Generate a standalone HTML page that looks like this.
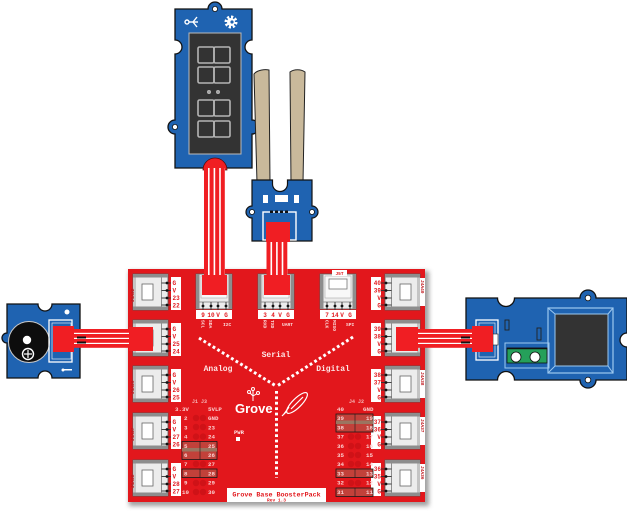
<!DOCTYPE html>
<html><head><meta charset="utf-8"><style>
html,body{margin:0;padding:0;background:#fff;}
svg{display:block;}
text{font-family:"Liberation Mono",monospace;font-weight:bold;}
</style></head><body>
<svg width="627" height="513" viewBox="0 0 627 513" xmlns="http://www.w3.org/2000/svg">
<defs>
<filter id="sh" x="-10%" y="-10%" width="120%" height="120%"><feGaussianBlur stdDeviation="2.5"/></filter>
<g id="ls">
<rect x="0" y="0" width="35" height="36" fill="#ececec" stroke="#555" stroke-width="0.8"/>
<rect x="0" y="0" width="35" height="3.5" fill="#8d8d8d"/>
<rect x="0" y="32.5" width="35" height="3.5" fill="#8d8d8d"/>
<rect x="0" y="3.5" width="3" height="29" fill="#c4c4c4"/>
<rect x="9" y="10" width="11" height="16" fill="#fff" stroke="#666" stroke-width="0.8"/>
<line x1="28.5" y1="3.5" x2="28.5" y2="32.5" stroke="#777" stroke-width="0.8"/>
<g stroke="#333" stroke-width="0.9">
<line x1="28.5" y1="9" x2="39" y2="9"/><line x1="28.5" y1="16.5" x2="39" y2="16.5"/>
<line x1="28.5" y1="24" x2="39" y2="24"/><line x1="28.5" y1="31" x2="39" y2="31"/>
</g>
<g fill="#111"><circle cx="34" cy="9" r="1.4"/><circle cx="34" cy="16.5" r="1.4"/><circle cx="34" cy="24" r="1.4"/><circle cx="34" cy="31" r="1.4"/></g>
</g>
<g id="ts">
<rect x="0" y="0" width="36" height="35" fill="#ececec" stroke="#555" stroke-width="0.8"/>
<rect x="0" y="0" width="3.5" height="35" fill="#8d8d8d"/>
<rect x="32.5" y="0" width="3.5" height="35" fill="#8d8d8d"/>
<rect x="5" y="2" width="26" height="22" fill="#f8f8f8" stroke="#aaa" stroke-width="0.6"/>
<rect x="9" y="5" width="18" height="10" fill="#fff" stroke="#777" stroke-width="0.8"/>
<line x1="3.5" y1="28" x2="32.5" y2="28" stroke="#777" stroke-width="0.8"/>
<g stroke="#333" stroke-width="0.9">
<line x1="7" y1="28" x2="7" y2="36"/><line x1="15" y1="28" x2="15" y2="36"/>
<line x1="22" y1="28" x2="22" y2="36"/><line x1="30" y1="28" x2="30" y2="36"/>
</g>
<g fill="#111"><circle cx="7" cy="32" r="1.4"/><circle cx="15" cy="32" r="1.4"/><circle cx="22" cy="32" r="1.4"/><circle cx="30" cy="32" r="1.4"/></g>
</g>
</defs>

<!-- board -->
<rect x="129" y="271" width="300" height="235" fill="#777" filter="url(#sh)" opacity="0.7"/>
<rect x="128" y="269" width="297" height="233" fill="#e2171c"/>

<!-- left sockets -->
<use href="#ls" x="133" y="274"/>
<use href="#ls" x="133" y="320"/>
<use href="#ls" x="133" y="366"/>
<use href="#ls" x="133" y="413"/>
<use href="#ls" x="133" y="460"/>
<g fill="#fff">
<rect x="171" y="277" width="10" height="33"/><rect x="171" y="323" width="10" height="33"/>
<rect x="171" y="369" width="10" height="33"/><rect x="171" y="416" width="10" height="33"/>
<rect x="171" y="463" width="10" height="33"/>
</g>
<g fill="#e2171c" font-size="6">
<text x="172.5" y="285">G</text><text x="172.5" y="292.5">V</text><text x="172.5" y="300">23</text><text x="172.5" y="307.5">22</text>
<text x="172.5" y="331">G</text><text x="172.5" y="338.5">V</text><text x="172.5" y="346">25</text><text x="172.5" y="353.5">24</text>
<text x="172.5" y="377">G</text><text x="172.5" y="384.5">V</text><text x="172.5" y="392">26</text><text x="172.5" y="399.5">25</text>
<text x="172.5" y="424">G</text><text x="172.5" y="431.5">V</text><text x="172.5" y="439">27</text><text x="172.5" y="446.5">26</text>
<text x="172.5" y="471">G</text><text x="172.5" y="478.5">V</text><text x="172.5" y="486">28</text><text x="172.5" y="493.5">27</text>
</g>
<g fill="#c0151a" font-size="4.5">
<text transform="translate(134,302) rotate(-90)">J1A22</text>
<text transform="translate(134,394) rotate(-90)">J1A26</text>
<text transform="translate(134,441) rotate(-90)">J1A27</text>
<text transform="translate(134,488) rotate(-90)">J1A28</text>
</g>

<!-- right sockets -->
<use href="#ls" transform="translate(420,274) scale(-1,1)"/>
<use href="#ls" transform="translate(420,320) scale(-1,1)"/>
<use href="#ls" transform="translate(420,366) scale(-1,1)"/>
<use href="#ls" transform="translate(420,413) scale(-1,1)"/>
<use href="#ls" transform="translate(420,460) scale(-1,1)"/>
<g fill="#fff">
<rect x="371" y="277" width="10" height="33"/><rect x="371" y="323" width="10" height="33"/>
<rect x="371" y="369" width="10" height="33"/><rect x="371" y="416" width="10" height="33"/>
<rect x="371" y="463" width="10" height="33"/>
<rect x="420" y="278" width="5" height="28"/><rect x="420" y="370" width="5" height="28"/>
<rect x="420" y="417" width="5" height="28"/><rect x="420" y="464" width="5" height="28"/>
</g>
<g fill="#e2171c" font-size="6" text-anchor="end">
<text x="381" y="285">40</text><text x="381" y="292.5">39</text><text x="381" y="300">V</text><text x="381" y="307.5">G</text>
<text x="381" y="331">39</text><text x="381" y="338.5">38</text><text x="381" y="346">V</text><text x="381" y="353.5">G</text>
<text x="381" y="377">38</text><text x="381" y="384.5">37</text><text x="381" y="392">V</text><text x="381" y="399.5">G</text>
<text x="381" y="424">37</text><text x="381" y="431.5">36</text><text x="381" y="439">V</text><text x="381" y="446.5">G</text>
<text x="381" y="471">36</text><text x="381" y="478.5">35</text><text x="381" y="486">V</text><text x="381" y="493.5">G</text>
</g>
<g fill="#c0151a" font-size="4.5">
<text transform="translate(421,280) rotate(90)">J4A40</text>
<text transform="translate(421,372) rotate(90)">J4A38</text>
<text transform="translate(421,419) rotate(90)">J4A37</text>
<text transform="translate(421,466) rotate(90)">J4A36</text>
</g>

<!-- top sockets -->
<use href="#ts" x="196" y="274"/>
<use href="#ts" x="258" y="274"/>
<use href="#ts" x="320" y="274"/>
<g fill="#fff">
<rect x="196" y="310" width="36" height="9"/><rect x="258" y="310" width="36" height="9"/><rect x="320" y="310" width="36" height="9"/>
<rect x="332" y="270" width="15" height="6"/>
</g>
<g fill="#e2171c" font-size="6" text-anchor="middle">
<text x="203" y="317">9</text><text x="211" y="317">10</text><text x="218" y="317">V</text><text x="226" y="317">G</text>
<text x="265" y="317">3</text><text x="273" y="317">4</text><text x="280" y="317">V</text><text x="288" y="317">G</text>
<text x="327" y="317">7</text><text x="335" y="317">14</text><text x="342" y="317">V</text><text x="350" y="317">G</text>
<text x="339.5" y="275" font-size="4.5">J5T</text>
</g>
<g fill="#fbd9d9" font-size="4.6">
<text transform="translate(201.5,320) rotate(90)">SCL</text>
<text transform="translate(209,320) rotate(90)">SDA</text>
<text transform="translate(263.5,320) rotate(90)">RXD</text>
<text transform="translate(271,320) rotate(90)">TXD</text>
<text transform="translate(325.5,320) rotate(90)">CLK</text>
<text transform="translate(333,320) rotate(90)">MISO</text>
<text x="223" y="326">I2C</text>
<text x="282" y="326">UART</text>
<text x="346" y="326">SPI</text>
</g>

<!-- dotted lines & board labels -->
<g stroke="#fff" stroke-width="3" stroke-dasharray="2.8,2.6" fill="none">
<line x1="199" y1="338" x2="276" y2="386"/>
<line x1="353" y1="337" x2="277" y2="386"/>
<line x1="276.5" y1="391" x2="276.5" y2="478"/>
</g>
<g fill="#fde6e6" font-size="8" text-anchor="middle">
<text x="276" y="357">Serial</text>
<text x="218" y="371">Analog</text>
<text x="333" y="371">Digital</text>
</g>
<text x="235" y="413" fill="#fff" font-size="13" style="font-family:'Liberation Sans',sans-serif;font-weight:bold">Grove</text>
<g stroke="#fff" stroke-width="1" fill="none">
<line x1="253" y1="401" x2="253" y2="396"/><line x1="253" y1="396" x2="249" y2="392"/><line x1="253" y1="396" x2="258" y2="393"/><line x1="253" y1="396" x2="253" y2="390"/>
<circle cx="249" cy="392" r="1.5" fill="#e2171c"/><circle cx="258" cy="393" r="1.5" fill="#e2171c"/><circle cx="253" cy="389" r="1.5" fill="#e2171c"/>
</g>
<g stroke="#fff" stroke-width="1.2" fill="none">
<ellipse cx="297" cy="403" rx="14" ry="4.5" transform="rotate(-45 297 403)"/>
<line x1="291" y1="409" x2="303" y2="397"/>
<line x1="284" y1="414" x2="289" y2="407"/><line x1="282" y1="416" x2="287" y2="411"/>
</g>
<text x="234" y="434" fill="#fde6e6" font-size="5.5">PWR</text>
<rect x="236" y="437" width="4" height="4" fill="#fff"/>
<g fill="#f6b8b8" font-size="5">
<text x="192" y="403">J1 J3</text>
<text x="349" y="403">J4 J2</text>
</g>

<!-- header pads -->
<g fill="#cf1217">
<circle cx="196" cy="418" r="3.2"/><circle cx="203" cy="418" r="3.2"/><circle cx="196" cy="427" r="3.2"/><circle cx="203" cy="427" r="3.2"/>
<circle cx="196" cy="436.6" r="3.2"/><circle cx="203" cy="436.6" r="3.2"/><circle cx="196" cy="464" r="3.2"/><circle cx="203" cy="464" r="3.2"/>
<circle cx="196" cy="483" r="3.2"/><circle cx="203" cy="483" r="3.2"/><circle cx="196" cy="492" r="3.2"/><circle cx="203" cy="492" r="3.2"/>
<circle cx="351" cy="436.6" r="3.2"/><circle cx="358" cy="436.6" r="3.2"/><circle cx="351" cy="446" r="3.2"/><circle cx="358" cy="446" r="3.2"/>
<circle cx="351" cy="455" r="3.2"/><circle cx="358" cy="455" r="3.2"/><circle cx="351" cy="464" r="3.2"/><circle cx="358" cy="464" r="3.2"/>
<circle cx="351" cy="483" r="3.2"/><circle cx="358" cy="483" r="3.2"/>
</g>
<!-- header boxes -->
<g stroke="#1a1a1a" stroke-width="0.8" fill="#c2413a">
<rect x="182" y="441.5" width="35" height="8.5"/><rect x="182" y="451" width="35" height="8.5"/>
<rect x="182" y="469" width="35" height="8.5"/>
<rect x="336" y="414" width="37" height="8.5"/><rect x="336" y="423.5" width="37" height="8.5"/>
<rect x="336" y="469" width="37" height="8.5"/><rect x="336" y="488" width="37" height="8.5"/>
</g>
<rect x="182" y="448" width="35" height="3.5" fill="#9b7560"/>
<rect x="336" y="420.5" width="37" height="3.5" fill="#9b7560"/>
<g stroke="#1a1a1a" stroke-width="0.6">
<line x1="200" y1="441.5" x2="200" y2="459.5"/><line x1="200" y1="469" x2="200" y2="477.5"/>
<line x1="355" y1="414" x2="355" y2="432"/><line x1="355" y1="469" x2="355" y2="477.5"/><line x1="355" y1="488" x2="355" y2="496.5"/>
</g>
<g fill="#fbd0d0" font-size="5.8">
<text x="175" y="411">3.3V</text><text x="208" y="411">5VLP</text>
<text x="184" y="420">2</text><text x="208" y="420">GND</text>
<text x="184" y="429.4">3</text><text x="208" y="429.4">23</text>
<text x="184" y="438.6">4</text><text x="208" y="438.6">24</text>
<text x="184" y="447.8">5</text><text x="208" y="447.8">25</text>
<text x="184" y="457">6</text><text x="208" y="457">26</text>
<text x="184" y="466.2">7</text><text x="208" y="466.2">27</text>
<text x="184" y="475.4">8</text><text x="208" y="475.4">28</text>
<text x="184" y="484.6">9</text><text x="208" y="484.6">29</text>
<text x="182" y="493.8">10</text><text x="208" y="493.8">30</text>
<text x="337" y="411">40</text><text x="363" y="411">GND</text>
<text x="337" y="420">39</text><text x="366" y="420">19</text>
<text x="337" y="429.4">38</text><text x="366" y="429.4">18</text>
<text x="337" y="438.6">37</text><text x="366" y="438.6">17</text>
<text x="337" y="447.8">36</text><text x="366" y="447.8">16</text>
<text x="337" y="457">35</text><text x="366" y="457">15</text>
<text x="337" y="466.2">34</text><text x="366" y="466.2">14</text>
<text x="337" y="475.4">33</text><text x="366" y="475.4">13</text>
<text x="337" y="484.6">32</text><text x="366" y="484.6">12</text>
<text x="337" y="493.8">31</text><text x="366" y="493.8">11</text>
</g>

<!-- bottom label -->
<rect x="227" y="488" width="99" height="14" fill="#fff"/>
<text x="276.5" y="496.5" fill="#e2171c" font-size="6.7" text-anchor="middle">Grove Base BoosterPack</text>
<text x="276.5" y="501.5" fill="#e2171c" font-size="4.5" text-anchor="middle">Rev 1.3</text>

<!-- 7-seg module -->
<path d="M175,9 H208 A7,7 0 0 1 222,9 H252 V40 A7,7 0 0 0 252,54 V120 A7,7 0 0 1 252,134 V168 H175 V134 A7,7 0 0 1 175,120 V54 A7,7 0 0 0 175,40 Z" fill="#1f63b1" stroke="#111" stroke-width="1.3"/>
<g fill="#fff" stroke="#111" stroke-width="0.8">
<circle cx="215" cy="9" r="2.6"/><circle cx="175" cy="127" r="2.6"/>
</g>
<!-- icons -->
<g stroke="#fff" stroke-width="1.4" fill="none">
<circle cx="187" cy="22" r="2"/><line x1="189" y1="22" x2="198" y2="22"/><line x1="193" y1="22" x2="197" y2="17"/><line x1="193" y1="22" x2="197" y2="27"/>
<circle cx="231" cy="22" r="5" stroke-width="3" stroke-dasharray="2.2,1.7"/>
</g>
<circle cx="231" cy="22" r="4" fill="#fff"/>
<circle cx="232" cy="22" r="1.6" fill="#1f63b1"/>
<rect x="189" y="33" width="52" height="121" fill="#333" stroke="#bbb" stroke-width="1"/>
<g fill="none" stroke="#b5b5b5" stroke-width="1.6">
<rect x="198" y="47" width="16" height="16" rx="1.5"/><rect x="214" y="47" width="16" height="16" rx="1.5"/>
<rect x="198" y="67" width="16" height="16" rx="1.5"/><rect x="214" y="67" width="16" height="16" rx="1.5"/>
<rect x="198" y="100" width="16" height="16" rx="1.5"/><rect x="214" y="100" width="16" height="16" rx="1.5"/>
<rect x="198" y="121" width="16" height="16" rx="1.5"/><rect x="214" y="121" width="16" height="16" rx="1.5"/>
<circle cx="209" cy="92" r="1.2"/><circle cx="218" cy="92" r="1.2"/>
</g>
<path d="M203,170 A12,12 0 0 1 227,170 Z" fill="#f01e23" stroke="#5a0a0a" stroke-width="0.8"/>

<!-- moisture sensor -->
<path d="M254,74 C257,70 265,69 269,70 L270,183 L257,183 Z" fill="#c9b99b" stroke="#222" stroke-width="1"/>
<path d="M290,72 C294,69 301,69 305,72 L303,183 L291,183 Z" fill="#c9b99b" stroke="#222" stroke-width="1"/>
<path d="M252,180 H272.5 V184 A7.5,7.5 0 0 0 287.5,184 V180 H312 V206 A6,6 0 0 1 312,218 V241 H252 V218 A6,6 0 0 1 252,206 Z" fill="#1f63b1" stroke="#111" stroke-width="1.2"/>
<g fill="#fff" stroke="#111" stroke-width="0.8">
<circle cx="252" cy="212" r="2.5"/><circle cx="312" cy="212" r="2.5"/>
</g>
<g fill="#fff">
<rect x="263" y="195" width="5" height="8"/><rect x="275" y="195" width="13" height="7"/><rect x="294" y="195" width="5" height="8"/>
</g>
<rect x="263" y="212" width="33" height="28" fill="none" stroke="#fff" stroke-width="1.4"/>
<g fill="#111"><rect x="270" y="210.5" width="3" height="2.5"/><rect x="275" y="210.5" width="3" height="2.5"/><rect x="280" y="210.5" width="3" height="2.5"/><rect x="285" y="210.5" width="3" height="2.5"/></g>

<!-- buzzer module -->
<path d="M7,304 H38 A7,7 0 0 0 52,304 H80 V378 H52 A7,7 0 0 0 38,378 H7 V343 A5,5 0 0 1 7,333 Z" fill="#1f63b1" stroke="#111" stroke-width="1.3"/>
<circle cx="29" cy="342" r="20.5" fill="#0d0d0d" stroke="#c9c9c9" stroke-width="1"/>
<circle cx="27" cy="340" r="4.2" fill="#fff"/>
<circle cx="28" cy="354" r="5.5" fill="none" stroke="#fff" stroke-width="1.4"/>
<line x1="28" y1="350" x2="28" y2="358" stroke="#fff" stroke-width="1.2"/>
<line x1="24" y1="354" x2="32" y2="354" stroke="#fff" stroke-width="1.2"/>
<rect x="49" y="320" width="23" height="42" fill="none" stroke="#fff" stroke-width="1.3"/>
<rect x="52" y="323" width="19" height="36" fill="none" stroke="#dfe9f5" stroke-width="0.7"/>
<g fill="#fff"><circle cx="67" cy="312" r="2.5"/><rect x="64" y="369" width="8" height="1.5"/><circle cx="63" cy="370" r="1.5"/></g>

<!-- right module -->
<path d="M466,298 H497.5 A8.5,8.5 0 0 0 514.5,298 H580 A8,8 0 0 1 596,298 H627 V333 A7,7 0 0 0 627,347 V380 H596 A8,8 0 0 1 580,380 H514.5 A8.5,8.5 0 0 0 497.5,380 H466 Z" fill="#1f63b1" stroke="#111" stroke-width="1.3"/>
<g fill="#fff" stroke="#111" stroke-width="0.8">
<circle cx="588" cy="298" r="2.8"/><circle cx="588" cy="380" r="2.8"/>
</g>
<rect x="548" y="308" width="65" height="65" fill="none" stroke="#9cc8f0" stroke-width="1.2"/>
<rect x="555" y="314" width="53" height="52" fill="#333" stroke="#9cc8f0" stroke-width="1"/>
<g stroke="#9cc8f0" stroke-width="1"><line x1="548" y1="373" x2="555" y2="366"/><line x1="613" y1="373" x2="608" y2="366"/><line x1="548" y1="308" x2="555" y2="314"/><line x1="613" y1="308" x2="608" y2="314"/></g>
<rect x="505" y="343" width="44" height="25" fill="none" stroke="#9cc8f0" stroke-width="1"/>
<rect x="507" y="348" width="40" height="15" fill="#25a05a" stroke="#111" stroke-width="0.8"/>
<line x1="507" y1="348.5" x2="547" y2="348.5" stroke="#111" stroke-width="1.4"/>
<circle cx="516" cy="357" r="5" fill="#fff" stroke="#111" stroke-width="0.8"/>
<circle cx="535" cy="357" r="5" fill="#fff" stroke="#111" stroke-width="0.8"/>
<rect x="505" y="320" width="4" height="10" fill="none" stroke="#222" stroke-width="0.9"/>
<rect x="537" y="328" width="4" height="12" fill="none" stroke="#222" stroke-width="0.9"/>
<rect x="476" y="320" width="22" height="40" fill="none" stroke="#fff" stroke-width="1.3"/>
<rect x="479" y="323" width="16" height="34" fill="none" stroke="#dfe9f5" stroke-width="0.7"/>
<rect x="493" y="334" width="5" height="11" fill="#fff" stroke="#222" stroke-width="0.6"/>

<!-- cables -->
<g>
<rect x="204" y="168" width="21" height="110" fill="#fff"/>
<g fill="#f01e23"><rect x="204" y="168" width="4" height="110"/><rect x="209.6" y="168" width="4" height="110"/><rect x="215.2" y="168" width="4" height="110"/><rect x="220.8" y="168" width="4" height="110"/></g>
<rect x="266.5" y="240" width="21" height="38" fill="#fff"/>
<g fill="#f01e23"><rect x="266.5" y="240" width="4" height="38"/><rect x="272.1" y="240" width="4" height="38"/><rect x="277.7" y="240" width="4" height="38"/><rect x="283.3" y="240" width="4" height="38"/></g>
<rect x="73" y="329" width="58" height="18.5" fill="#fff"/>
<g fill="#f01e23"><rect x="73" y="329" width="58" height="3.8"/><rect x="73" y="334" width="58" height="3.8"/><rect x="73" y="339" width="58" height="3.8"/><rect x="73" y="344" width="58" height="3.8"/></g>
<rect x="416" y="329" width="58" height="18.5" fill="#fff"/>
<g fill="#f01e23"><rect x="416" y="329" width="58" height="3.8"/><rect x="416" y="334" width="58" height="3.8"/><rect x="416" y="339" width="58" height="3.8"/><rect x="416" y="344" width="58" height="3.8"/></g>
<g fill="#111"><rect x="77" y="336.5" width="9" height="2"/><rect x="77" y="341.5" width="9" height="2"/><rect x="461" y="336.5" width="9" height="2"/><rect x="461" y="341.5" width="9" height="2"/></g>
</g>

<!-- plugs -->
<g fill="#f01e23">
<rect x="202" y="275" width="25" height="20"/>
<rect x="264" y="275" width="26" height="20"/>
<rect x="266" y="222" width="24" height="20"/>
<rect x="129" y="327" width="24" height="24"/>
<rect x="53" y="326" width="21" height="26"/>
<rect x="396" y="327" width="22" height="24"/>
<rect x="472" y="326" width="21" height="26"/>
</g>
</svg>
</body></html>
